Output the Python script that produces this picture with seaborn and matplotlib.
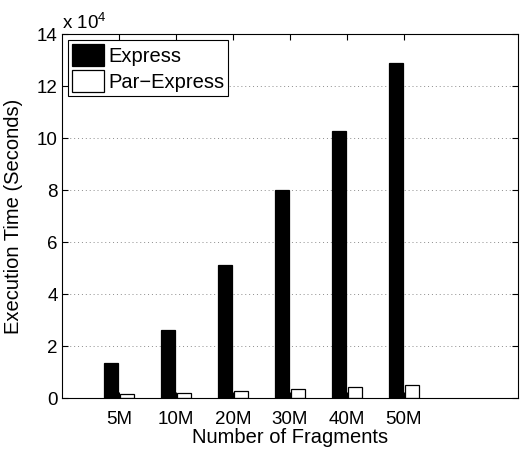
import pandas as pd
import seaborn as sns
import matplotlib.pyplot as plt
from matplotlib.ticker import FuncFormatter, MultipleLocator

# values (seconds)
fragments = ["5M", "10M", "20M", "30M", "40M", "50M"]
express = [13500, 26500, 51500, 80000, 103000, 129000]
par_express = [1800, 2200, 3000, 3600, 4500, 5100]
methods = ["Express", "Par\u2212Express"]

sns.set_style("ticks")
plt.rcParams['font.family'] = ['Liberation Sans', 'DejaVu Sans']
plt.rcParams['mathtext.fontset'] = 'custom'
plt.rcParams['mathtext.rm'] = 'Liberation Sans'
plt.rcParams['axes.edgecolor'] = 'black'
plt.rcParams['xtick.color'] = 'black'
plt.rcParams['ytick.color'] = 'black'
plt.rcParams['text.color'] = 'black'
plt.rcParams['axes.labelcolor'] = 'black'

df = pd.DataFrame({
    "Fragments": fragments * 2,
    "Time": express + par_express,
    "Method": [methods[0]] * len(fragments) + [methods[1]] * len(fragments),
})

fig = plt.figure(figsize=(5.2, 4.49), dpi=100)
ax = fig.add_axes([0.119, 0.1125, 0.877, 0.811])

sns.barplot(data=df, x="Fragments", y="Time", hue="Method",
            palette=["black", "white"], saturation=1,
            width=0.56, gap=0.14, edgecolor="black", linewidth=0.9,
            errorbar=None, ax=ax)

ax.set_xlim(-1, 7)
ax.set_ylim(0, 140000)
ax.yaxis.set_major_locator(MultipleLocator(20000))
ax.yaxis.set_major_formatter(FuncFormatter(lambda v, p: f"{v / 1e4:g}"))
ax.text(0, 1.003, r"x 10$^4$", transform=ax.transAxes, fontsize=13.5,
        ha="left", va="bottom")

# dotted horizontal grid only, behind the bars
ax.set_axisbelow(True)
ax.yaxis.grid(True, linestyle=(0, (1, 3)), color="0.55", linewidth=0.7)
ax.xaxis.grid(False)

for s in ax.spines.values():
    s.set_visible(True)
    s.set_linewidth(0.8)
ax.tick_params(direction="in", top=True, right=True, length=4, width=0.8,
               labelsize=13.5)
ax.tick_params(axis="x", pad=9)
ax.tick_params(axis="y", pad=3)

ax.set_xlabel("Number of Fragments", fontsize=14.5, labelpad=0)
ax.set_ylabel("Execution Time (Seconds)", fontsize=14.5, labelpad=10)

handles, labels = ax.get_legend_handles_labels()
leg = ax.legend(handles, labels, loc="upper left", fontsize=14.5,
                frameon=True, fancybox=False, edgecolor="black", framealpha=1,
                borderaxespad=0.3, borderpad=0.2, handlelength=1.6,
                handleheight=1.3, handletextpad=0.2, labelspacing=0.2)
leg.get_frame().set_linewidth(0.8)

fig.savefig("out.png", dpi=100)
